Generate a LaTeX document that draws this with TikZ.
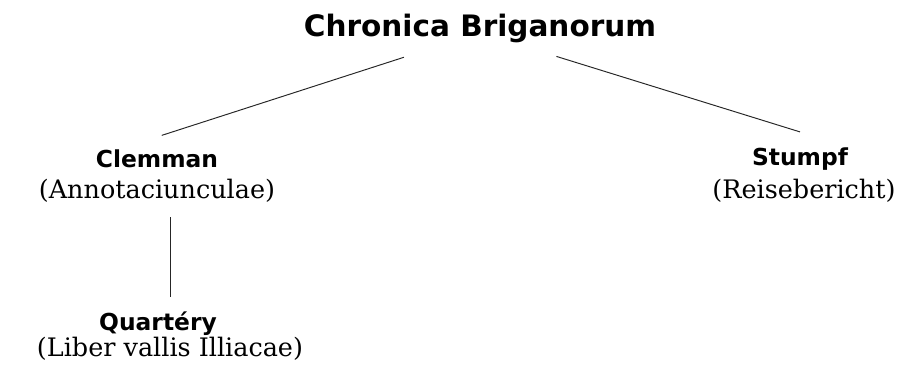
\documentclass[tikz,border=0pt]{standalone}
\usepackage{fontspec}
\usepackage{tikz}
\newfontfamily\headfont{DejaVu Sans}
\newfontfamily\subfont{DejaVu Serif}

\begin{document}
\begin{tikzpicture}[x=0.02cm,y=-0.02cm]
\tikzstyle{every node}+=[inner sep=0pt]
\tikzstyle{head}=[anchor=base,font=\headfont\bfseries\fontsize{13.3}{16}\selectfont]
\tikzstyle{sub}=[anchor=base,font=\subfont\fontsize{14.5}{17}\selectfont]
\tikzstyle{link}=[black!85,line width=0.55pt]
\useasboundingbox (0,0) rectangle (902,370);
% top of the stemma
\node [anchor=base,font=\headfont\bfseries\fontsize{16.8}{20}\selectfont] (chronica) at (480,36) {Chronica Briganorum};
% left branch
\node [head] (clemman) at (157,167) {Clemman};
\node [sub] (annot) at (157,198) {(Annotaciunculae)};
\node [head] (quartery) at (158,330) {Quartéry};
\node [sub] (liber) at (170,356) {(Liber vallis Illiacae)};
% right branch
\node [head] (stumpf) at (800,165) {Stumpf};
\node [sub] (reise) at (804,198) {(Reisebericht)};
% connectors
\draw [link,shorten <=1.6cm,shorten >=0.1cm] ([yshift=0.2cm]chronica.south) -- ([yshift=0.24cm]clemman.north);
\draw [link,shorten <=1.6cm] ([yshift=0.2cm]chronica.south) -- ([yshift=0.3cm]stumpf.north);
\draw [link,shorten <=0.3cm,shorten >=0.28cm] (annot.south -| liber.north) -- (quartery.north -| liber.north);
\end{tikzpicture}
\end{document}
